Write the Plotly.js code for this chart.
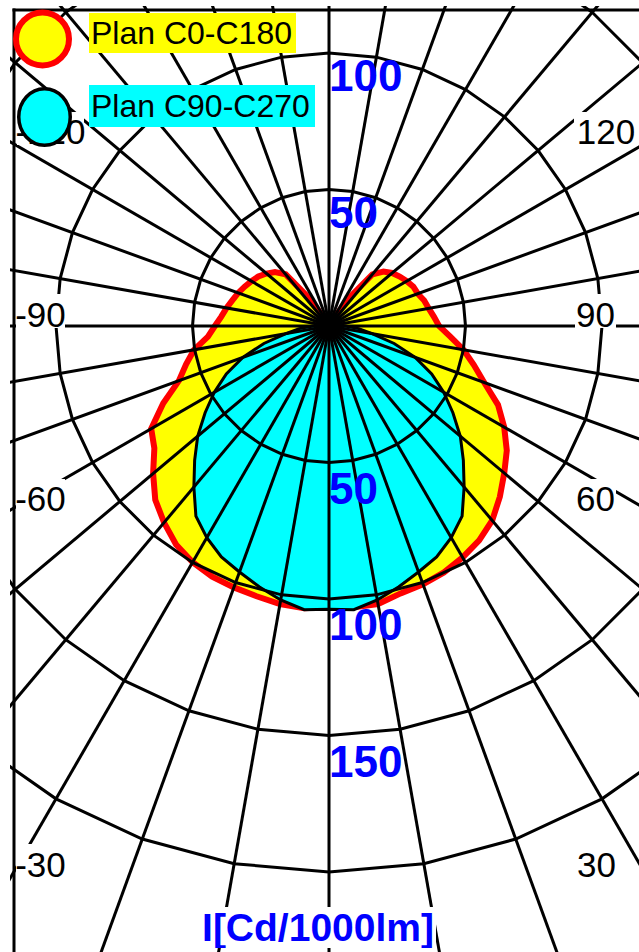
<!DOCTYPE html>
<html>
<head>
<meta charset="utf-8">
<script src="https://cdn.plot.ly/plotly-3.0.1.min.js"></script>
<style>
  html, body { margin:0; padding:0; background:#ffffff; }
  body { width:639px; height:952px; overflow:hidden; position:relative; }
  #clip { position:absolute; left:10px; top:6px; width:629px; height:946px; overflow:hidden; background:#ffffff; }
  #chart { position:absolute; width:1500px; height:1500px; }
</style>
</head>
<body>
<div id="clip"><div id="chart"></div></div>
<script>
// ---------------- DATA ----------------
// gamma angle (deg), 0 = nadir, negative to the left
const gamma = [-180,-175,-170,-165,-160,-155,-150,-145,-140,-135,-130,-125,-120,-115,-110,-105,-100,-95,-90,-85,-80,-75,-70,-65,-60,-55,-50,-45,-40,-35,-30,-25,-20,-15,-10,-5,0,5,10,15,20,25,30,35,40,45,50,55,60,65,70,75,80,85,90,95,100,105,110,115,120,125,130,135,140,145,150,155,160,165,170,175,180];
// Intensity cd/1000lm, plane C0-C180
const planC0C180 = [0,0,0,0,0,0,2,12,24.7,28,29.9,31.6,32.8,34.1,35.4,36.6,38.1,39.6,41.8,44.5,50.2,54.2,58.5,67,75.2,78.1,84.1,90,94,97.7,99.9,101.3,101.9,102.5,103.4,103.8,102.9,103.4,103.4,101.4,100.7,99.6,97.9,95.9,93,88.5,83.8,79.5,74.1,68.3,60.5,54.9,50,44.6,40.3,38.6,37.1,36.1,34.6,34.1,32.9,31.6,30.2,28.2,24.7,12,2,0,0,0,0,0,0];
// Intensity cd/1000lm, plane C90-C270
const planC90C270 = [0,0,0,0,0,0,0,0,0,0,0,0,0,0,0,0,0,2,5.9,10.9,15.8,24.7,33.6,41.5,48.5,55.4,62.8,69.6,77,85,89.5,93.3,95.9,98.9,101.9,104.3,103.8,104.3,101.9,98.9,95.9,93.3,89.5,85,77,69.6,62.8,55.4,48.5,41.5,33.6,24.7,15.8,10.9,5.9,2,0,0,0,0,0,0,0,0,0,0,0,0,0,0,0,0,0];
// grid: spokes every 10 degrees, rings
const spokeAngles = ['0','10','20','30','40','50','60','70','80','90','100','110','120','130','140','150','160','170','180','190','200','210','220','230','240','250','260','270','280','290','300','310','320','330','340','350'];
const ringValues = [50,100,150,200];
const ringLabelsBottom = [50,100,150];
const ringLabelsTop = [50,100];
const angleLabels = ['-120','120','-90','90','-60','60','-30','30'];
const seriesNames = ['Plan C0-C180','Plan C90-C270'];
const unitLabel = 'I[Cd/1000lm]';

// ---------------- GEOMETRY / STYLE ----------------
const FIG = 1500, HALF = 750;
const CX = 329, CY = 326, SCALE = 2.73;   // page px of pole, px per cd
const CLIP_L = 10, CLIP_T = 6;
const RMAX = HALF / SCALE;
const chartDiv = document.getElementById('chart');
chartDiv.style.left = (CX - HALF - CLIP_L) + 'px';
chartDiv.style.top = (CY - HALF - CLIP_T) + 'px';
const X = px => (px - CX + HALF) / FIG;
const Y = py => 1 - (py - CY + HALF) / FIG;
const FONT = 'Liberation Sans, Arial, sans-serif';
const BLUE = '#0000FF';

// label boxes (page px) for the angle labels: [x0,x1,y0,y1]
const angleBoxes = [[17,84,112,145],[574,638,112,145],[16,65,294,328],[575,616,294,328],[16,65,479,512],[575,616,479,512],[16,65,844,878],[576,617,844,878]];

const traces = [
  {type:'scatterpolar', subplot:'polar', r: planC0C180, theta: gamma, mode:'lines',
   fill:'toself', fillcolor:'#FFFF00', line:{color:'#FF0000', width:6}, name: seriesNames[0], hoverinfo:'skip'},
  {type:'scatterpolar', subplot:'polar', r: planC90C270, theta: gamma, mode:'lines',
   fill:'toself', fillcolor:'#00FFFF', line:{color:'#000000', width:3}, name: seriesNames[1], hoverinfo:'skip'},
  // carrier for the category grid on top
  {type:'scatterpolar', subplot:'polar2', r: spokeAngles.map(() => 0), theta: spokeAngles, mode:'markers',
   marker:{size:1, opacity:0}, hoverinfo:'skip'},
  {type:'scatterpolar', subplot:'polar2', r: ringLabelsBottom.map(v => v + 8 / SCALE), theta: ringLabelsBottom.map(() => '0'),
   mode:'text', text: ringLabelsBottom.map(String), textposition:'bottom right',
   textfont:{family:FONT, size:44, color:BLUE, weight:'bold'}, hoverinfo:'skip'},
  {type:'scatterpolar', subplot:'polar2', r: ringLabelsTop.map(v => v - 5 / SCALE), theta: ringLabelsTop.map(() => '180'),
   mode:'text', text: ringLabelsTop.map(String), textposition:'bottom right',
   textfont:{family:FONT, size:44, color:BLUE, weight:'bold'}, hoverinfo:'skip'}
];

const angCommon = {rotation:-90, direction:'counterclockwise', showticklabels:false, ticks:'', showline:false};
const radCommon = {range:[0, RMAX], showline:false, showticklabels:false, ticks:''};

const shapes = [
  {type:'line', xref:'paper', yref:'paper', x0:X(14), x1:X(14), y0:Y(8.5), y1:Y(970), line:{color:'#000', width:3}, layer:'above'},
  {type:'line', xref:'paper', yref:'paper', x0:X(12.5), x1:X(660), y0:Y(10), y1:Y(10), line:{color:'#000', width:3}, layer:'above'}
];
angleLabels.forEach((t, i) => {
  const b = angleBoxes[i];
  shapes.push({type:'rect', xref:'paper', yref:'paper', x0:X(b[0]), x1:X(b[1]), y0:Y(b[3]), y1:Y(b[2]),
    fillcolor:'#ffffff', line:{width:0}, layer:'above',
    label:{text:t, textposition:'middle center', font:{family:FONT, size:35, color:'#000'}}});
});
// legend symbols
shapes.push({type:'circle', xref:'paper', yref:'paper', x0:X(16), x1:X(69), y0:Y(65.5), y1:Y(12.5),
  fillcolor:'#FFFF00', line:{color:'#FF0000', width:6}, layer:'above'});
shapes.push({type:'circle', xref:'paper', yref:'paper', x0:X(18.75), x1:X(70.25), y0:Y(145.25), y1:Y(88.75),
  fillcolor:'#00FFFF', line:{color:'#000000', width:3.5}, layer:'above'});

const annotations = [
  {xref:'paper', yref:'paper', x:X(89), y:Y(13), xanchor:'left', yanchor:'top', showarrow:false,
   text: seriesNames[0], bgcolor:'#FFFF00', borderwidth:0, borderpad:2, width:203, height:36, align:'left',
   font:{family:FONT, size:32, color:'#000'}},
  {xref:'paper', yref:'paper', x:X(89), y:Y(85), xanchor:'left', yanchor:'top', showarrow:false,
   text: seriesNames[1], bgcolor:'#00FFFF', borderwidth:0, borderpad:2, width:222, height:38, align:'left',
   font:{family:FONT, size:32, color:'#000'}},
  {xref:'paper', yref:'paper', x:X(318), y:Y(927.5), xanchor:'center', yanchor:'middle', showarrow:false,
   text: unitLabel, bgcolor:'#ffffff', borderwidth:0, borderpad:0, width:236, height:41,
   font:{family:FONT, size:39, color:BLUE, weight:'bold'}}
];

const layout = {
  width:FIG, height:FIG, autosize:false,
  margin:{l:0, r:0, t:0, b:0, pad:0},
  paper_bgcolor:'#ffffff', showlegend:false,
  polar:{
    domain:{x:[0,1], y:[0,1]}, bgcolor:'#ffffff',
    angularaxis:Object.assign({type:'linear', thetaunit:'degrees', showgrid:false}, angCommon),
    radialaxis:Object.assign({showgrid:false}, radCommon)
  },
  polar2:{
    domain:{x:[0,1], y:[0,1]}, bgcolor:'rgba(0,0,0,0)', gridshape:'linear',
    angularaxis:Object.assign({type:'category', categoryorder:'array', categoryarray:spokeAngles,
      tickmode:'linear', tick0:0, dtick:1, showgrid:true, gridcolor:'#000', gridwidth:3}, angCommon),
    radialaxis:Object.assign({tickmode:'array', tickvals:ringValues, showgrid:true, gridcolor:'#000', gridwidth:3}, radCommon)
  },
  shapes: shapes,
  annotations: annotations
};

Plotly.newPlot(chartDiv, traces, layout, {staticPlot:true, displayModeBar:false, responsive:false});
</script>
</body>
</html>
